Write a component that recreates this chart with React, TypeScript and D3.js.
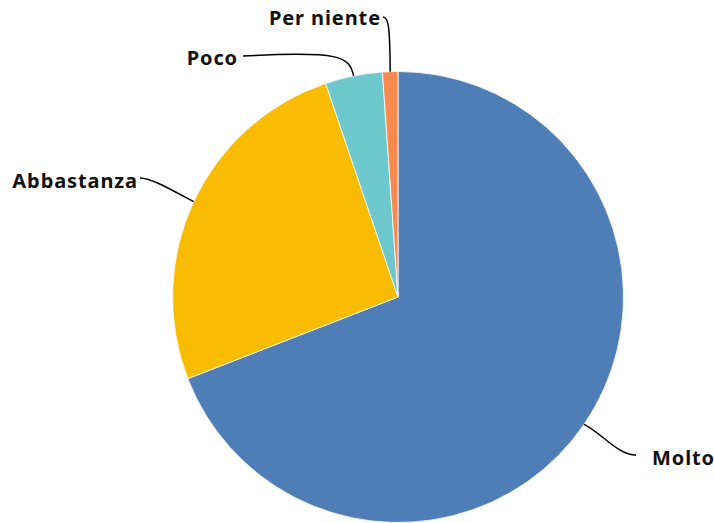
import React from "react";
import * as d3 from "d3";

const categories = ["Molto", "Abbastanza", "Poco", "Per niente"];
const values = [69.1, 25.7, 4.1, 1.1];
const colors = ["#4f7db6", "#f9bc02", "#6cc8cc", "#f98a4f"];

const W = 714;
const H = 523;
const cx = 398;
const cy = 297;
const R = 225.5;

// label layout: end point of leader, and label anchor
const labelLayout = [
  { ex: 636, ey: 455, tx: 652, ty: 460, anchor: "start", c1: [0.35, 0.3], c2: [0.65, 1] },
  { ex: 140, ey: 178, tx: 138, ty: 183, anchor: "end", c1: [0.45, 0.55], c2: [0.8, 1] },
  { ex: 243, ey: 56, tx: 238, ty: 60, anchor: "end", c1: [0.04, 1.0], c2: [0.12, 1.25] },
  { ex: 383, ey: 17, tx: 381, ty: 20, anchor: "end", c1: [0.05, 0.85], c2: [0.25, 1] },
];

export default function App() {
  const pie = d3
    .pie<number>()
    .sort(null)
    .value((d) => d);
  const arcs = pie(values);
  const arc = d3.arc<d3.PieArcDatum<number>>().innerRadius(0).outerRadius(R);

  return (
    <svg
      width={W}
      height={H}
      style={{ position: "absolute", left: 0, top: 0, background: "#fff" }}
    >
      <g transform={`translate(${cx},${cy})`}>
        {arcs.map((a, i) => (
          <path key={i} d={arc(a) || ""} fill={colors[i]} stroke="#fff" strokeWidth={0.8} />
        ))}
      </g>
      {arcs.map((a, i) => {
        const mid = (a.startAngle + a.endAngle) / 2;
        const sx = cx + R * Math.sin(mid);
        const sy = cy - R * Math.cos(mid);
        const L = labelLayout[i];
        const dx = L.ex - sx;
        const dy = L.ey - sy;
        const p1x = sx + dx * L.c1[0];
        const p1y = sy + dy * L.c1[1];
        const p2x = sx + dx * L.c2[0];
        const p2y = sy + dy * L.c2[1];
        const d = `M${sx},${sy} C${p1x},${p1y} ${p2x},${p2y} ${L.ex},${L.ey}`;
        return (
          <g key={i}>
            <path d={d} fill="none" stroke="#000" strokeWidth={1.5} />
            <text
              x={L.tx}
              y={L.ty}
              textAnchor={L.anchor as any}
              dominantBaseline="middle"
              fontFamily="'Noto Sans', sans-serif"
              fontWeight={700}
              fontSize={20}
              letterSpacing={0.9}
              fill="#111"
            >
              {categories[i]}
            </text>
          </g>
        );
      })}
    </svg>
  );
}
